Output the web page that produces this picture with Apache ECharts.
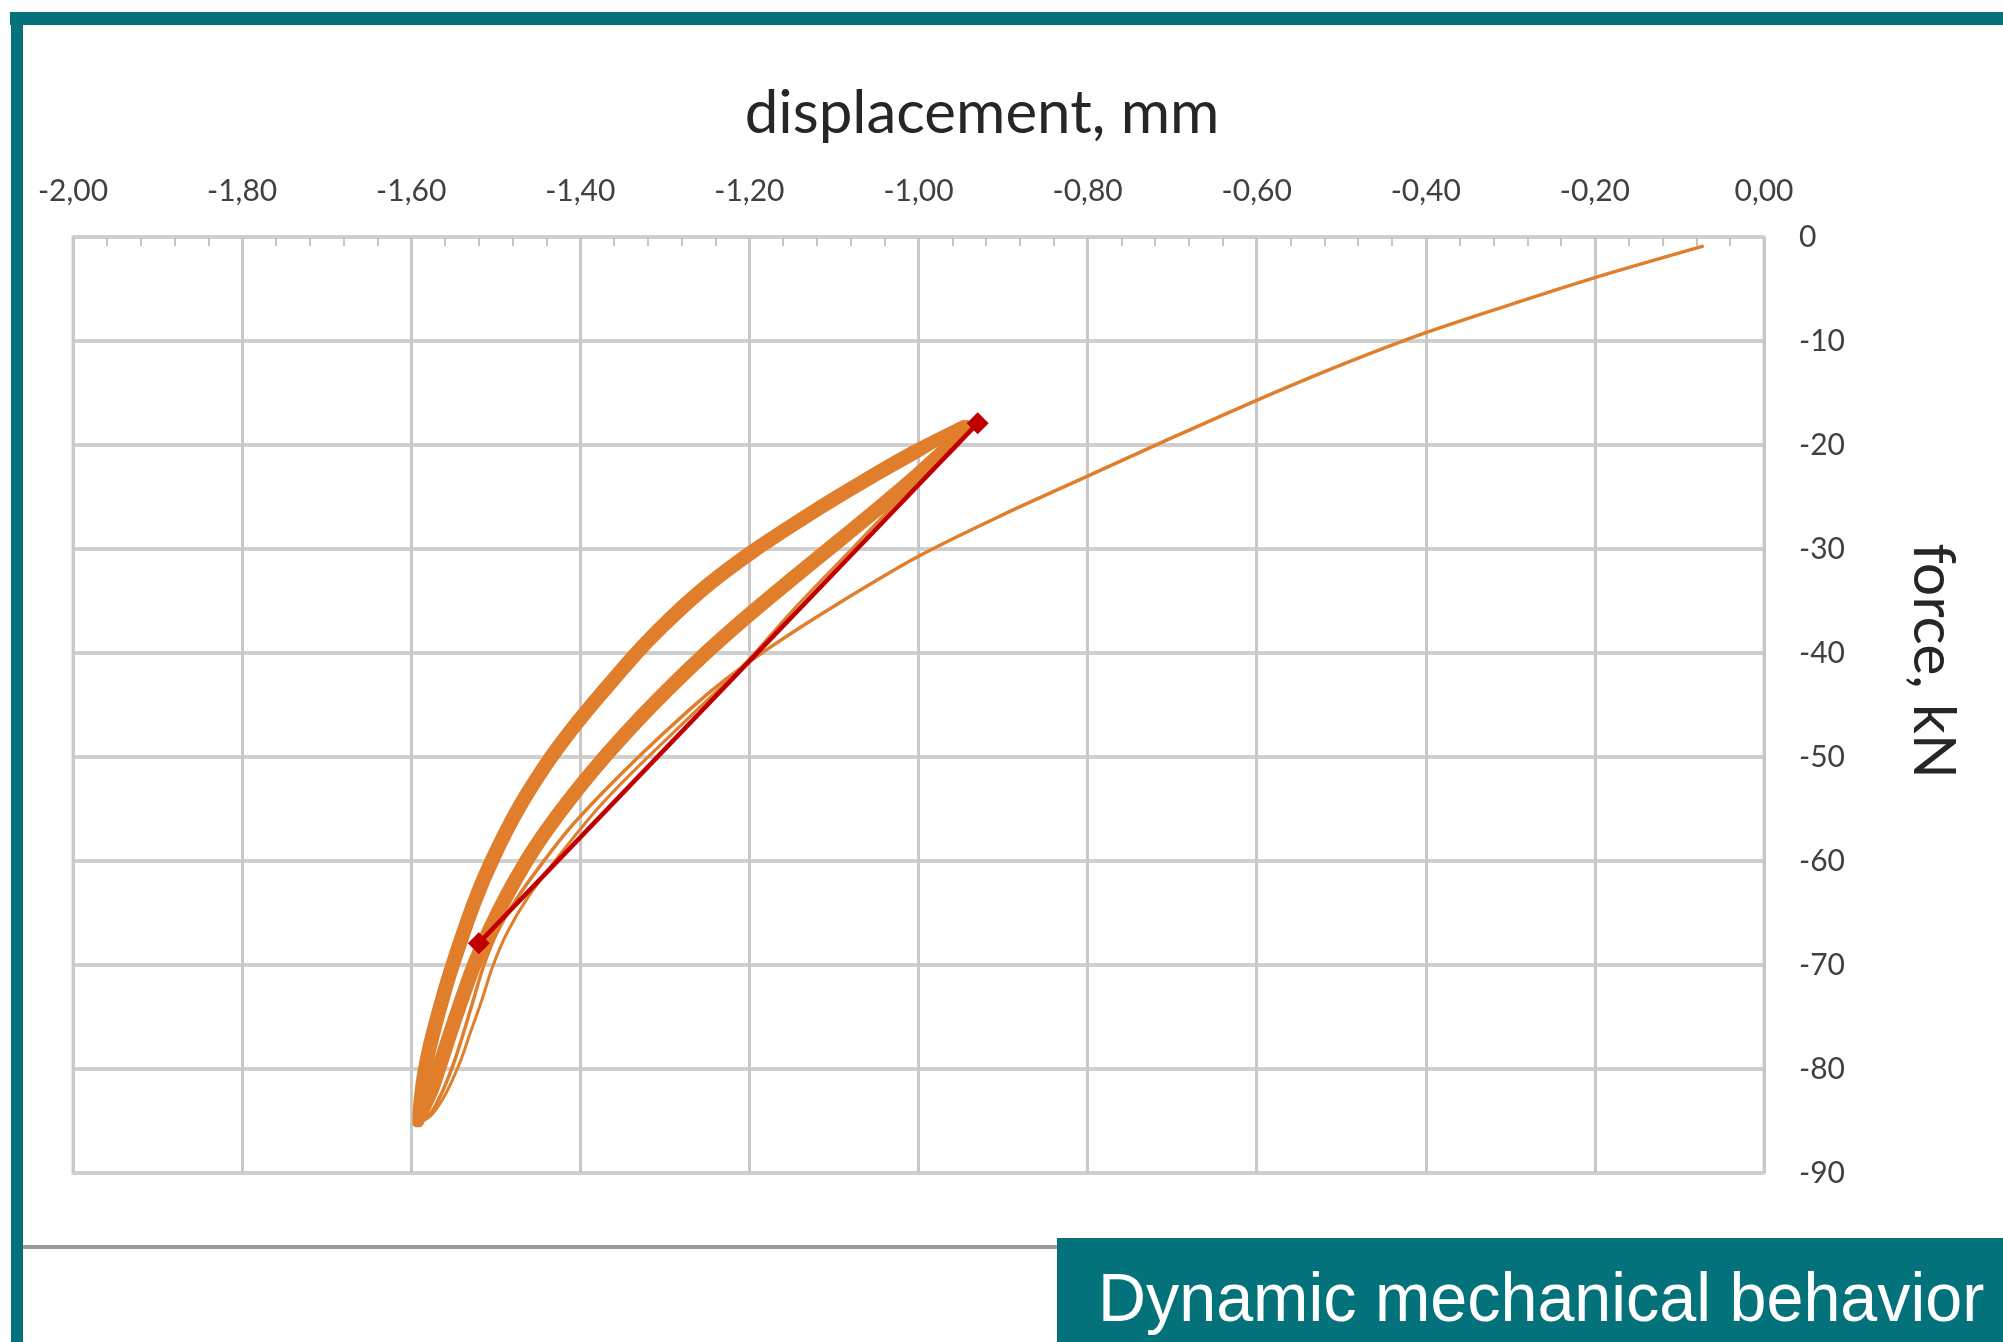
<!DOCTYPE html>
<html>
<head>
<meta charset="utf-8">
<script src="https://cdn.jsdelivr.net/npm/echarts@6/dist/echarts.min.js"></script>
<style>
html,body{margin:0;padding:0;background:#fff;}
#chart{width:2003px;height:1342px;}
</style>
</head>
<body>
<div id="chart"></div>
<script>
// ---- tick labels ----
var xTickLabels = ['-2,00','-1,80','-1,60','-1,40','-1,20','-1,00','-0,80','-0,60','-0,40','-0,20','0,00'];
var yTickLabels = ['-90','-80','-70','-60','-50','-40','-30','-20','-10','0'];

// ---- initial (first) loading curve: [displacement mm, force kN] ----
var initialLoading = [
  [-0.073,-0.9],[-0.20,-3.9],[-0.30,-6.5],[-0.40,-9.2],[-0.50,-12.3],[-0.60,-15.7],
  [-0.70,-19.3],[-0.80,-23.0],[-0.90,-26.7],[-1.00,-30.7],[-1.10,-35.5],[-1.18,-39.7],
  [-1.24,-43.3],[-1.30,-47.6],[-1.36,-52.3],[-1.41,-56.6],[-1.445,-60.2],[-1.475,-63.6],
  [-1.498,-66.8],[-1.514,-70.0],[-1.527,-73.5],[-1.538,-76.5],[-1.550,-79.5],[-1.565,-82.5],
  [-1.580,-84.6],[-1.592,-85.2]
];

// ---- second thin loading path ----
var secondLoading = [
  [-0.935,-18.3],[-1.008,-24.0],[-1.079,-30.0],[-1.150,-36.0],[-1.205,-41.0],[-1.270,-46.1],
  [-1.340,-51.6],[-1.381,-55.1],[-1.430,-60.0],[-1.462,-63.5],[-1.486,-66.8],[-1.503,-70.0],
  [-1.517,-73.5],[-1.530,-76.5],[-1.543,-79.5],[-1.560,-82.5],[-1.577,-84.5],[-1.592,-85.2]
];

// ---- cycle A: loading branch (top -> tip) and unloading branch (tip -> top) ----
var cycleALoading = [
  [-0.9420,-18.2],[-0.9715,-20.3],[-1.0082,-23.0],[-1.0562,-26.3],[-1.1057,-29.6],
  [-1.1555,-32.9],[-1.2055,-36.3],[-1.2553,-39.9],[-1.3050,-43.8],[-1.3498,-47.6],
  [-1.3896,-51.3],[-1.4285,-55.3],[-1.4603,-59.0],[-1.4876,-62.8],[-1.5100,-66.4],
  [-1.5304,-70.2],[-1.5503,-74.8],[-1.5653,-78.5],[-1.5790,-82.0],[-1.5895,-84.2],
  [-1.5935,-85.2]
];
var cycleAUnloading = [
  [-1.5935,-85.0],[-1.5900,-81.5],[-1.5826,-78.2],[-1.5727,-75.0],[-1.5567,-70.5],
  [-1.5298,-64.1],[-1.5064,-59.6],[-1.4776,-55.0],[-1.4463,-50.9],[-1.4150,-47.4],
  [-1.3797,-43.9],[-1.3269,-39.0],[-1.2655,-34.2],[-1.2052,-30.4],[-1.1267,-26.2],
  [-1.0680,-23.3],[-1.0103,-20.6],[-0.9470,-18.0]
];

// ---- cycle B ----
var cycleBLoading = [
  [-0.9380,-18.2],[-0.9612,-20.3],[-0.9974,-23.0],[-1.0451,-26.3],[-1.0945,-29.6],
  [-1.1443,-32.9],[-1.1946,-36.3],[-1.2448,-39.9],[-1.2950,-43.8],[-1.3402,-47.6],
  [-1.3804,-51.3],[-1.4196,-55.3],[-1.4518,-59.0],[-1.4795,-62.8],[-1.5021,-66.4],
  [-1.5227,-70.2],[-1.5428,-74.8],[-1.5578,-78.5],[-1.5720,-82.0],[-1.5845,-84.2],
  [-1.5905,-85.2]
];
var cycleBUnloading = [
  [-1.5905,-85.0],[-1.5840,-81.5],[-1.5754,-78.2],[-1.5654,-75.0],[-1.5493,-70.5],
  [-1.5222,-64.1],[-1.4986,-59.6],[-1.4694,-55.0],[-1.4377,-50.9],[-1.4060,-47.4],
  [-1.3704,-43.9],[-1.3171,-39.0],[-1.2545,-34.2],[-1.1929,-30.4],[-1.1134,-26.2],
  [-1.0540,-23.3],[-0.9958,-20.6],[-0.9430,-18.0]
];

// ---- secant (red) between the two reference points ----
var secantPoints = [[-0.930,-17.9],[-1.520,-67.9]];

var ORANGE = '#E07E2C';
var RED = '#C00000';
var TEAL = '#03727B';

var chart = echarts.init(document.getElementById('chart'), null, {renderer:'canvas'});

function lineSeries(data, width, smooth) {
  return {
    type:'line', data:data, symbol:'none', smooth:smooth, silent:true,
    lineStyle:{color:ORANGE, width:width, cap:'round', join:'round'},
    itemStyle:{color:ORANGE}
  };
}

var option = {
  animation:false,
  backgroundColor:'#ffffff',
  grid:{left:73, top:237, width:1691, height:936, show:true, borderColor:'#d0d0d0', borderWidth:3,
        backgroundColor:'#ffffff', containLabel:false, outerBoundsMode:'none'},
  xAxis:{
    type:'value', position:'top', min:-2, max:0, interval:0.2,
    axisLine:{show:false},
    axisTick:{show:false, inside:true},
    minorTick:{show:true, splitNumber:5, length:9, lineStyle:{color:'#c4c4c4', width:2}},
    splitLine:{show:true, lineStyle:{color:'#c8c8c8', width:3}},
    axisLabel:{margin:31, fontFamily:'Lato', fontSize:30, color:'#404040',
      formatter:function(v,i){ return xTickLabels[i]; }}
  },
  yAxis:{
    type:'value', position:'right', min:-90, max:0, interval:10,
    axisLine:{show:false}, axisTick:{show:false},
    splitLine:{show:true, lineStyle:{color:'#cfcfcf', width:4}},
    axisLabel:{margin:35, fontFamily:'Lato', fontSize:30, color:'#404040',
      formatter:function(v,i){ return yTickLabels[i]; }}
  },
  series:[
    lineSeries(initialLoading, 3.5, 0.3),
    lineSeries(secondLoading, 3, 0.3),
    lineSeries(cycleALoading.concat(cycleAUnloading), 8.5, 0.3),
    lineSeries(cycleBLoading.concat(cycleBUnloading), 8.5, 0.3),
    {
      type:'line', data:secantPoints, symbol:'diamond', symbolSize:22, silent:true,
      lineStyle:{color:RED, width:4.5}, itemStyle:{color:RED}, z:5
    }
  ],
  graphic:[
    {type:'rect', silent:true, shape:{x:10, y:12, width:1993, height:13}, style:{fill:TEAL}},
    {type:'rect', silent:true, shape:{x:11, y:12, width:12, height:1330}, style:{fill:TEAL}},
    {type:'rect', silent:true, shape:{x:23, y:1245, width:1034, height:4}, style:{fill:'#999999'}},
    {type:'rect', silent:true, shape:{x:1057, y:1238, width:946, height:104}, style:{fill:TEAL}},
    {type:'text', silent:true, x:982, y:114,
      style:{text:'displacement, mm', font:'60px Lato', fill:'#262626',
             align:'center', verticalAlign:'middle', textAlign:'center', textVerticalAlign:'middle'}},
    {type:'text', silent:true, x:1933, y:661, rotation:-Math.PI/2,
      style:{text:'force, kN', font:'59px Lato', fill:'#262626',
             align:'center', verticalAlign:'middle', textAlign:'center', textVerticalAlign:'middle'}},
    {type:'text', silent:true, x:1098, y:1302, scaleX:0.963,
      style:{text:'Dynamic mechanical behavior', font:'69px "Liberation Sans"', fill:'#ffffff',
             align:'left', verticalAlign:'middle', textAlign:'left', textVerticalAlign:'middle'}}
  ]
};
chart.setOption(option);
</script>
</body>
</html>
